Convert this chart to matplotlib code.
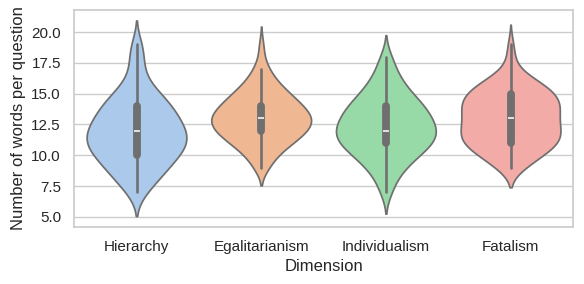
import numpy as np
import pandas as pd
import matplotlib
matplotlib.use('Agg')
import matplotlib.pyplot as plt
import seaborn as sns

# words-per-question values and how many questions had each length
dimensions = ['Hierarchy', 'Egalitarianism', 'Individualism', 'Fatalism']

hier_words  = [7, 8, 9, 10, 11, 12, 13, 14, 15, 16, 17, 18, 19]
hier_counts = [3, 6, 9, 12, 15, 14, 12, 10, 7, 3, 2, 2, 2]

egal_words  = [9, 10, 11, 12, 13, 14, 15, 16, 17, 18, 19]
egal_counts = [3, 6, 12, 18, 20, 16, 11, 6, 3, 1, 1]

indi_words  = [7, 8, 9, 10, 11, 12, 13, 14, 15, 16, 17, 18]
indi_counts = [2, 3, 6, 10, 15, 16, 14, 12, 8, 5, 3, 2]

fata_words  = [9, 10, 11, 12, 13, 14, 15, 16, 17, 18, 19]
fata_counts = [4, 9, 14, 14, 13, 14, 13, 8, 2, 1, 1]

words  = [hier_words, egal_words, indi_words, fata_words]
counts = [hier_counts, egal_counts, indi_counts, fata_counts]

rows = []
for dim, w, c in zip(dimensions, words, counts):
    for v in np.repeat(w, c):
        rows.append({'Dimension': dim, 'n_words': int(v)})
df = pd.DataFrame(rows)

sns.set_theme(style='whitegrid')
plt.rcParams['font.family'] = ['Liberation Sans', 'DejaVu Sans']

fig = plt.figure(figsize=(5.84, 2.84), dpi=100)
ax = fig.add_axes([0.127, 0.202, 0.854, 0.763])
sns.violinplot(data=df, x='Dimension', y='n_words', hue='Dimension',
               palette='pastel', order=dimensions, density_norm='width',
               bw_adjust=0.9, legend=False, ax=ax)
ax.set_ylim(4.2, 21.8)
ax.set_yticks([5.0, 7.5, 10.0, 12.5, 15.0, 17.5, 20.0])
ax.set_xlabel('Dimension')
ax.set_ylabel('Number of words per question')

fig.savefig('out.png', dpi=100)
